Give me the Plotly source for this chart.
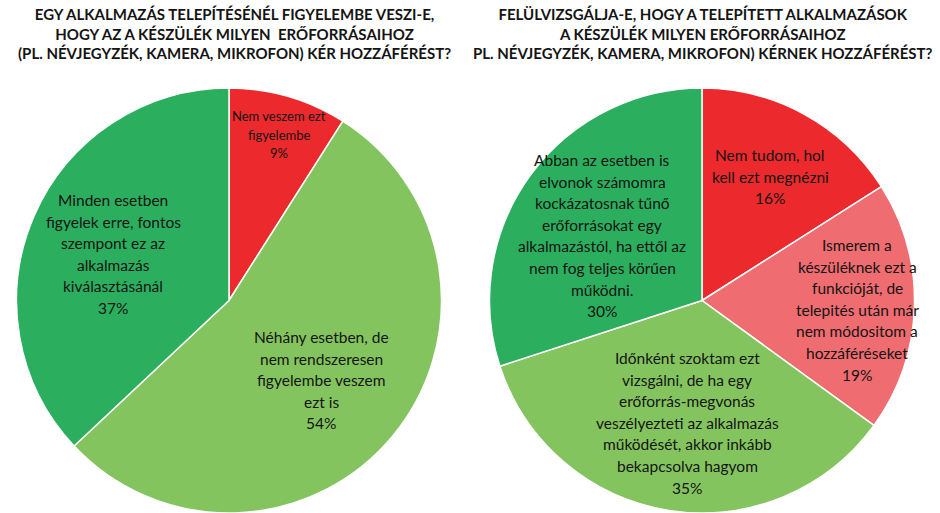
import plotly.graph_objects as go

# Survey answers, first question
q1_title = [
    "EGY ALKALMAZÁS TELEPÍTÉSÉNÉL FIGYELEMBE VESZI-E,",
    "HOGY AZ A KÉSZÜLÉK MILYEN  ERŐFORRÁSAIHOZ",
    "(PL. NÉVJEGYZÉK, KAMERA, MIKROFON) KÉR HOZZÁFÉRÉST?",
]
q1_labels = [
    "Nem veszem ezt\nfigyelembe",
    "Néhány esetben, de\nnem rendszeresen\nfigyelembe veszem\nezt is",
    "Minden esetben\nfigyelek erre, fontos\nszempont ez az\nalkalmazás\nkiválasztásánál",
]
q1_values = [9, 54, 37]

# Survey answers, second question
q2_title = [
    "FELÜLVIZSGÁLJA-E, HOGY A TELEPÍTETT ALKALMAZÁSOK",
    "A KÉSZÜLÉK MILYEN ERŐFORRÁSAIHOZ",
    "PL. NÉVJEGYZÉK, KAMERA, MIKROFON) KÉRNEK HOZZÁFÉRÉST?",
]
q2_labels = [
    "Nem tudom, hol\nkell ezt megnézni",
    "Ismerem a\nkészüléknek ezt a\nfunkcióját, de\ntelepités után már\nnem módositom a\nhozzáféréseket",
    "Időnként szoktam ezt\nvizsgálni, de ha egy\nerőforrás-megvonás\nveszélyezteti az alkalmazás\nműködését, akkor inkább\nbekapcsolva hagyom",
    "Abban az esetben is\nelvonok számomra\nkockázatosnak tűnő\nerőforrásokat egy\nalkalmazástól, ha ettől az\nnem fog teljes körűen\nműködni.",
]
q2_values = [16, 19, 35, 30]

W, H = 940, 513
RED, SALMON, LIGHT, DARK = "#EC2A2D", "#EF6C70", "#84C45F", "#2BAF5E"
q1_colors = [RED, LIGHT, DARK]
q2_colors = [RED, SALMON, LIGHT, DARK]

FONT = "Lato, 'Open Sans', sans-serif"
TEXT = "#141414"

# pie centres / radius in pixels
R = 213
C1 = (229, 301)
C2 = (702, 301)

# label anchor (x centre, y of first line) and font size per slice
BODY = 15.5
q1_label_pos = [(279, 116, 13), (321, 337, BODY), (113, 200, BODY)]
q2_label_pos = [(770, 155, BODY), (857, 245, BODY), (687, 358, BODY), (602, 160, BODY)]


def domain(c):
    return dict(
        x=[(c[0] - R) / W, (c[0] + R) / W],
        y=[max(0.0, 1 - (c[1] + R) / H), 1 - (c[1] - R) / H],
    )


fig = go.Figure()
for vals, labs, cols, c in [
    (q1_values, q1_labels, q1_colors, C1),
    (q2_values, q2_labels, q2_colors, C2),
]:
    fig.add_trace(go.Pie(
        values=vals,
        labels=[l.replace("\n", " ") for l in labs],
        marker=dict(colors=cols, line=dict(color="white", width=1.5)),
        sort=False,
        direction="clockwise",
        rotation=0,
        textinfo="none",
        hole=0,
        domain=domain(c),
        showlegend=False,
    ))

annotations = []


def add_lines(lines, x, y0, step, size):
    for i, ln in enumerate(lines):
        annotations.append(dict(
            x=x / W, y=1 - (y0 + i * step) / H,
            xref="paper", yref="paper", xanchor="center", yanchor="middle",
            text=ln,
            showarrow=False,
            font=dict(family=FONT, size=size, color=TEXT),
        ))


def add_title(lines, x, y_mid, size):
    annotations.append(dict(
        x=x / W, y=1 - y_mid / H,
        xref="paper", yref="paper", xanchor="center", yanchor="middle",
        text="<br>".join(f"<b>{ln}</b>" for ln in lines),
        showarrow=False, align="center", borderpad=0,
        font=dict(family=FONT, size=size, color=TEXT),
    ))


for labs, vals, pos in [(q1_labels, q1_values, q1_label_pos),
                        (q2_labels, q2_values, q2_label_pos)]:
    for lab, v, (x, y, s) in zip(labs, vals, pos):
        lines = lab.split("\n") + [f"{v}%"]
        step = 18.6 if s < BODY else 21.6
        add_lines(lines, x, y, step, s)

add_title(q1_title, 234, 33, 15)
add_title(q2_title, 703, 33, 15)

fig.update_layout(
    width=W, height=H,
    margin=dict(l=0, r=0, t=0, b=0),
    paper_bgcolor="white",
    plot_bgcolor="white",
    annotations=annotations,
)

fig.write_html("out.html")
